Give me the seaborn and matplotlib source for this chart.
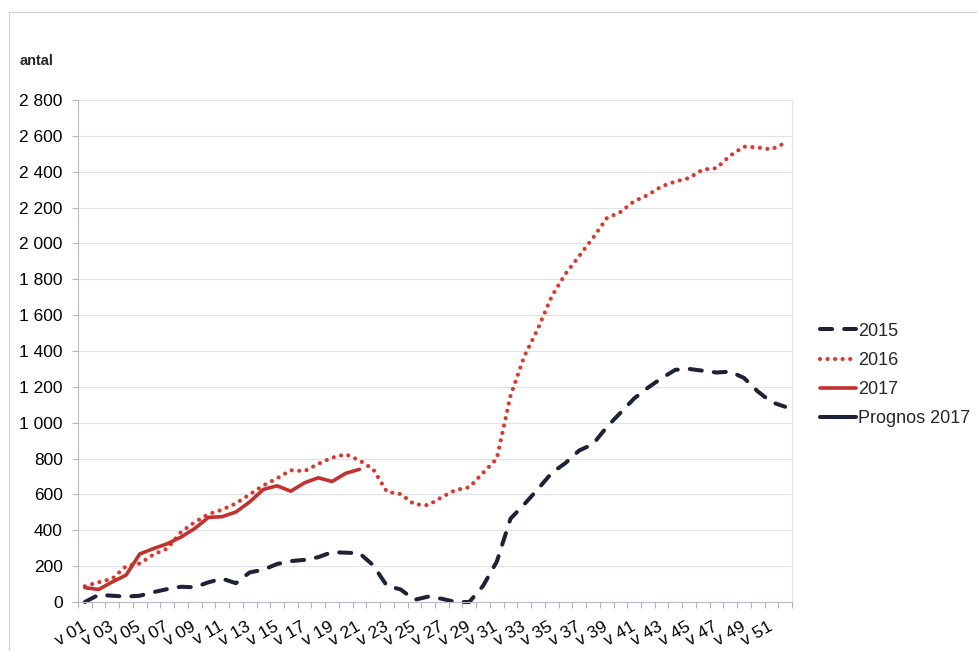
import seaborn as sns
import pandas as pd
import matplotlib.pyplot as plt
from matplotlib.ticker import FuncFormatter, FixedLocator
from matplotlib.lines import Line2D

# weekly counts
weeks = [f"v {i:02d}" for i in range(1, 53)]

y2015 = [0, 40, 35, 30, 35, 55, 72, 85, 82, 110,
         130, 105, 165, 180, 212, 228, 235, 250, 278, 275,
         272, 205, 90, 70, 12, 30, 18, 0, 0, 90,
         225, 465, 545, 630, 720, 775, 845, 880, 975, 1055,
         1135, 1195, 1248, 1295, 1300, 1290, 1280, 1285, 1250, 1175,
         1115, 1089]

y2016 = [88, 110, 130, 200, 215, 265, 298, 390, 445, 490,
         515, 550, 600, 650, 690, 735, 730, 770, 805, 824,
         790, 740, 615, 602, 545, 540, 585, 625, 640, 720,
         800, 1150, 1370, 1525, 1705, 1830, 1930, 2030, 2140, 2175,
         2235, 2270, 2318, 2345, 2365, 2412, 2420, 2490, 2540, 2535,
         2525, 2560]

y2017 = [80, 70, 112, 150, 268, 298, 325, 362, 410, 472,
         476, 502, 558, 628, 648, 618, 665, 693, 672, 718,
         740]

prognos_2017 = []

sns.set_theme(style="white")
plt.rcParams['font.family'] = ['Liberation Sans', 'DejaVu Sans']

fig = plt.figure(figsize=(9.77, 6.51), dpi=100)
ax = fig.add_axes([78 / 977, 1 - 602 / 651, (792 - 78) / 977, (602 - 100) / 651])

navy = '#1e2236'
red17 = '#c4302c'
red16 = '#e2352a'

df15 = pd.DataFrame({"pos": range(len(y2015)), "antal": y2015})
df16 = pd.DataFrame({"pos": range(len(y2016)), "antal": y2016})
df17 = pd.DataFrame({"pos": range(len(y2017)), "antal": y2017})

sns.lineplot(x="pos", y="antal", data=df15, ax=ax, color=navy, lw=2.9,
             linestyle=(0, (3, 3)), dash_capstyle='round', label='2015', clip_on=False)
sns.lineplot(x="pos", y="antal", data=df16, ax=ax, color=red16, lw=3.0,
             linestyle=(0, (0.01, 1.8)), dash_capstyle='round', label='2016', clip_on=False)
sns.lineplot(x="pos", y="antal", data=df17, ax=ax, color=red17, lw=2.6,
             solid_capstyle='round', label='2017', clip_on=False)
ax.plot(range(len(prognos_2017)), prognos_2017, color=navy, lw=2.9, label='Prognos 2017')

ax.set_xlim(-0.5, 51.5)
ax.set_ylim(0, 2800)
ax.set_xlabel('')
ax.set_ylabel('')

# y axis
ax.set_yticks(range(0, 2801, 200))
ax.yaxis.set_major_formatter(FuncFormatter(lambda v, p: f"{int(v):,}".replace(",", " ")))
ax.tick_params(axis='y', which='major', left=True, length=4, width=0.8, color='#b0b4c0',
               pad=7, labelsize=12.5, labelcolor='black')
ax.yaxis.grid(True, color='#dfe2ea', lw=0.8)
ax.xaxis.grid(False)

# x axis: labels every other week, ticks between categories
ax.xaxis.set_major_locator(FixedLocator(range(0, 52, 2)))
ax.set_xticklabels(weeks[::2], rotation=30, ha='right', va='center', rotation_mode='anchor')
ax.xaxis.set_minor_locator(FixedLocator([i - 0.5 for i in range(53)]))
ax.tick_params(axis='x', which='major', bottom=True, length=0, pad=17, labelsize=12.5,
               labelcolor='black')
ax.tick_params(axis='x', which='minor', bottom=True, length=4, width=0.8, color='#b0b4c0')

for side in ['left', 'bottom']:
    ax.spines[side].set_color('#b8bcc8')
    ax.spines[side].set_linewidth(0.8)
ax.spines['right'].set_color('#e2e4ea')
ax.spines['right'].set_linewidth(0.8)
ax.spines['top'].set_visible(False)

fig.text(20 / 977, 1 - 61 / 651, 'antal', fontsize=10.5, fontweight='bold', va='center')

# chart area border (top and left edges visible in scan)
fig.add_artist(Line2D([9 / 977, 1], [1 - 12 / 651, 1 - 12 / 651], color='#cfd0d6', lw=0.8))
fig.add_artist(Line2D([9 / 977, 9 / 977], [0, 1 - 12 / 651], color='#cfd0d6', lw=0.8))

handles, labels = ax.get_legend_handles_labels()
ax.legend(handles, labels, loc='center left', bbox_to_anchor=(820 / 977, 1 - 375 / 651),
          bbox_transform=fig.transFigure, frameon=False, fontsize=13,
          handlelength=2.0, handletextpad=0.1, labelspacing=0.68,
          borderpad=0, borderaxespad=0)

plt.savefig('out.png', dpi=100)
